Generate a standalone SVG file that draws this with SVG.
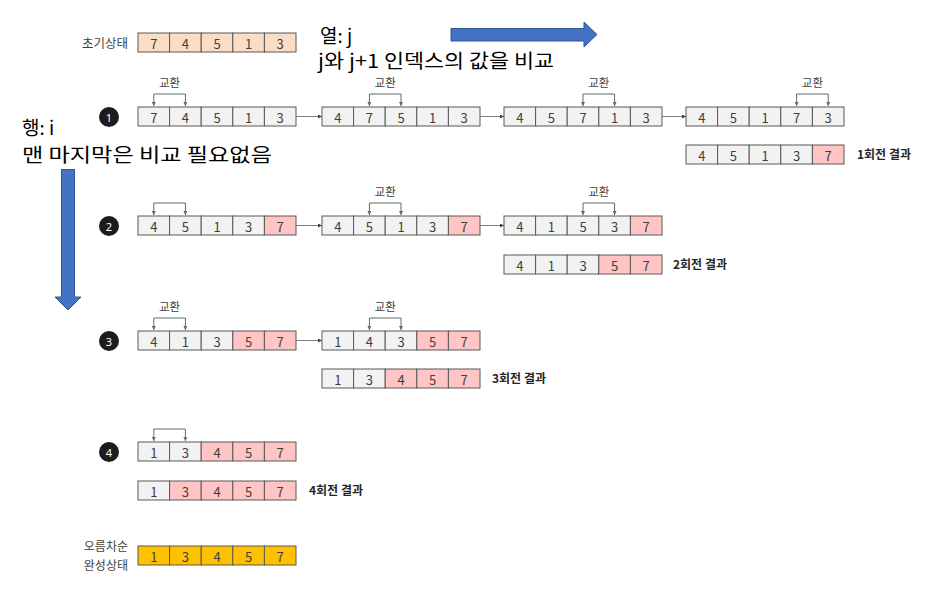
<svg xmlns="http://www.w3.org/2000/svg" width="940" height="613" viewBox="0 0 940 613">
<style>
rect{stroke:#595959;stroke-width:1}
.c{fill:#f2f2f2}.p{fill:#ffc5c5}.o{fill:#fbdcc4}.g{fill:#ffc000}
text{font-family:"Noto Sans CJK KR","Noto Sans",sans-serif}
.n{font-size:13px;fill:#404040;text-anchor:middle;dominant-baseline:central}
.lb{font-size:11.5px;fill:#404040;text-anchor:middle}
.br{fill:none;stroke:#5e6e68;stroke-width:1;marker-start:url(#ah);marker-end:url(#ah)}
.cn{fill:none;stroke:#7f7f7f;stroke-width:1;marker-end:url(#ca)}
.res{font-size:12px;font-weight:bold;fill:#262626}
.big{font-size:19px;fill:#000}
.side{font-size:12.5px;fill:#404040;text-anchor:end}
.side2{font-size:12px;fill:#404040;text-anchor:end}
.cir{fill:#1c1c1c}
.cn2{font-size:11px;fill:#fff;text-anchor:middle;dominant-baseline:central;font-family:"Noto Sans",sans-serif}
.blue{fill:#4472c4;stroke:#2f5597;stroke-width:1}
</style>
<defs>
<marker id="ah" viewBox="0 0 6 6" refX="6" refY="3" markerWidth="4" markerHeight="4" orient="auto-start-reverse" markerUnits="userSpaceOnUse"><path d="M0 0L6 3L0 6z" fill="#5e6e68"/></marker>
<marker id="ca" viewBox="0 0 6 6" refX="6" refY="3" markerWidth="4" markerHeight="4" orient="auto" markerUnits="userSpaceOnUse"><path d="M0 0L6 3L0 6z" fill="#404040"/></marker>
</defs>

<g id="title-col">
<text class="big" x="320" y="43">열: j</text>
<text class="big" x="318" y="68" textLength="236" lengthAdjust="spacingAndGlyphs">j와 j+1 인덱스의 값을 비교</text>
<path class="blue" d="M451 28.5H584V22L597 34.5L584 47V41H451Z"/>
</g>
<g id="title-row">
<text class="big" x="22" y="135">행: i</text>
<text class="big" x="22" y="162" textLength="250" lengthAdjust="spacingAndGlyphs">맨 마지막은 비교 필요없음</text>
<path class="blue" d="M61.5 169.5H74.5V297H81L68 310L55 297H61.5Z"/>
</g>

<g id="init">
<text class="side" x="128" y="48">초기상태</text>
<rect class="o" x="138" y="33" width="31.6" height="19"/><rect class="o" x="169.6" y="33" width="31.6" height="19"/><rect class="o" x="201.2" y="33" width="31.6" height="19"/><rect class="o" x="232.8" y="33" width="31.6" height="19"/><rect class="o" x="264.4" y="33" width="31.6" height="19"/>
<text class="n" x="153.8" y="43">7</text><text class="n" x="185.4" y="43">4</text><text class="n" x="217" y="43">5</text><text class="n" x="248.6" y="43">1</text><text class="n" x="280.2" y="43">3</text>
</g>

<g id="step1"><circle class="cir" cx="109" cy="117" r="10"/><text class="cn2" x="109" y="117">1</text></g>
<g id="step2"><circle class="cir" cx="109" cy="226" r="10"/><text class="cn2" x="109" y="226">2</text></g>
<g id="step3"><circle class="cir" cx="109" cy="341" r="10"/><text class="cn2" x="109" y="341">3</text></g>
<g id="step4"><circle class="cir" cx="109" cy="452" r="10"/><text class="cn2" x="109" y="452">4</text></g>

<g id="r1a">
<rect class="c" x="138" y="107" width="31.6" height="19"/><rect class="c" x="169.6" y="107" width="31.6" height="19"/><rect class="c" x="201.2" y="107" width="31.6" height="19"/><rect class="c" x="232.8" y="107" width="31.6" height="19"/><rect class="c" x="264.4" y="107" width="31.6" height="19"/>
<text class="n" x="153.8" y="117">7</text><text class="n" x="185.4" y="117">4</text><text class="n" x="217" y="117">5</text><text class="n" x="248.6" y="117">1</text><text class="n" x="280.2" y="117">3</text>
<path class="br" d="M153.8 106V94H185.4V106"/><text class="lb" x="169.6" y="87">교환</text>
</g>
<g id="r1b">
<rect class="c" x="322" y="107" width="31.6" height="19"/><rect class="c" x="353.6" y="107" width="31.6" height="19"/><rect class="c" x="385.2" y="107" width="31.6" height="19"/><rect class="c" x="416.8" y="107" width="31.6" height="19"/><rect class="c" x="448.4" y="107" width="31.6" height="19"/>
<text class="n" x="337.8" y="117">4</text><text class="n" x="369.4" y="117">7</text><text class="n" x="401" y="117">5</text><text class="n" x="432.6" y="117">1</text><text class="n" x="464.2" y="117">3</text>
<path class="br" d="M369.4 106V94H401V106"/><text class="lb" x="385.2" y="87">교환</text>
</g>
<g id="r1c">
<rect class="c" x="504" y="107" width="31.6" height="19"/><rect class="c" x="535.6" y="107" width="31.6" height="19"/><rect class="c" x="567.2" y="107" width="31.6" height="19"/><rect class="c" x="598.8" y="107" width="31.6" height="19"/><rect class="c" x="630.4" y="107" width="31.6" height="19"/>
<text class="n" x="519.8" y="117">4</text><text class="n" x="551.4" y="117">5</text><text class="n" x="583" y="117">7</text><text class="n" x="614.6" y="117">1</text><text class="n" x="646.2" y="117">3</text>
<path class="br" d="M583 106V94H614.6V106"/><text class="lb" x="598.8" y="87">교환</text>
</g>
<g id="r1d">
<rect class="c" x="686" y="107" width="31.6" height="19"/><rect class="c" x="717.6" y="107" width="31.6" height="19"/><rect class="c" x="749.2" y="107" width="31.6" height="19"/><rect class="c" x="780.8" y="107" width="31.6" height="19"/><rect class="c" x="812.4" y="107" width="31.6" height="19"/>
<text class="n" x="701.8" y="117">4</text><text class="n" x="733.4" y="117">5</text><text class="n" x="765" y="117">1</text><text class="n" x="796.6" y="117">7</text><text class="n" x="828.2" y="117">3</text>
<path class="br" d="M796.6 106V94H828.2V106"/><text class="lb" x="812.4" y="87">교환</text>
</g>
<g id="res1">
<rect class="c" x="686" y="145" width="31.6" height="19"/><rect class="c" x="717.6" y="145" width="31.6" height="19"/><rect class="c" x="749.2" y="145" width="31.6" height="19"/><rect class="c" x="780.8" y="145" width="31.6" height="19"/><rect class="p" x="812.4" y="145" width="31.6" height="19"/>
<text class="n" x="701.8" y="155">4</text><text class="n" x="733.4" y="155">5</text><text class="n" x="765" y="155">1</text><text class="n" x="796.6" y="155">3</text><text class="n" x="828.2" y="155">7</text>
<text class="res" x="857" y="159">1회전 결과</text>
</g>

<g id="r2a">
<rect class="c" x="138" y="216" width="31.6" height="19"/><rect class="c" x="169.6" y="216" width="31.6" height="19"/><rect class="c" x="201.2" y="216" width="31.6" height="19"/><rect class="c" x="232.8" y="216" width="31.6" height="19"/><rect class="p" x="264.4" y="216" width="31.6" height="19"/>
<text class="n" x="153.8" y="226">4</text><text class="n" x="185.4" y="226">5</text><text class="n" x="217" y="226">1</text><text class="n" x="248.6" y="226">3</text><text class="n" x="280.2" y="226">7</text>
<path class="br" d="M153.8 215V203H185.4V215"/>
</g>
<g id="r2b">
<rect class="c" x="322" y="216" width="31.6" height="19"/><rect class="c" x="353.6" y="216" width="31.6" height="19"/><rect class="c" x="385.2" y="216" width="31.6" height="19"/><rect class="c" x="416.8" y="216" width="31.6" height="19"/><rect class="p" x="448.4" y="216" width="31.6" height="19"/>
<text class="n" x="337.8" y="226">4</text><text class="n" x="369.4" y="226">5</text><text class="n" x="401" y="226">1</text><text class="n" x="432.6" y="226">3</text><text class="n" x="464.2" y="226">7</text>
<path class="br" d="M369.4 215V203H401V215"/><text class="lb" x="385.2" y="196">교환</text>
</g>
<g id="r2c">
<rect class="c" x="504" y="216" width="31.6" height="19"/><rect class="c" x="535.6" y="216" width="31.6" height="19"/><rect class="c" x="567.2" y="216" width="31.6" height="19"/><rect class="c" x="598.8" y="216" width="31.6" height="19"/><rect class="p" x="630.4" y="216" width="31.6" height="19"/>
<text class="n" x="519.8" y="226">4</text><text class="n" x="551.4" y="226">1</text><text class="n" x="583" y="226">5</text><text class="n" x="614.6" y="226">3</text><text class="n" x="646.2" y="226">7</text>
<path class="br" d="M583 215V203H614.6V215"/><text class="lb" x="598.8" y="196">교환</text>
</g>
<g id="res2">
<rect class="c" x="504" y="255" width="31.6" height="19"/><rect class="c" x="535.6" y="255" width="31.6" height="19"/><rect class="c" x="567.2" y="255" width="31.6" height="19"/><rect class="p" x="598.8" y="255" width="31.6" height="19"/><rect class="p" x="630.4" y="255" width="31.6" height="19"/>
<text class="n" x="519.8" y="265">4</text><text class="n" x="551.4" y="265">1</text><text class="n" x="583" y="265">3</text><text class="n" x="614.6" y="265">5</text><text class="n" x="646.2" y="265">7</text>
<text class="res" x="673" y="269">2회전 결과</text>
</g>

<g id="r3a">
<rect class="c" x="138" y="331" width="31.6" height="19"/><rect class="c" x="169.6" y="331" width="31.6" height="19"/><rect class="c" x="201.2" y="331" width="31.6" height="19"/><rect class="p" x="232.8" y="331" width="31.6" height="19"/><rect class="p" x="264.4" y="331" width="31.6" height="19"/>
<text class="n" x="153.8" y="341">4</text><text class="n" x="185.4" y="341">1</text><text class="n" x="217" y="341">3</text><text class="n" x="248.6" y="341">5</text><text class="n" x="280.2" y="341">7</text>
<path class="br" d="M153.8 330V318H185.4V330"/><text class="lb" x="169.6" y="311">교환</text>
</g>
<g id="r3b">
<rect class="c" x="322" y="331" width="31.6" height="19"/><rect class="c" x="353.6" y="331" width="31.6" height="19"/><rect class="c" x="385.2" y="331" width="31.6" height="19"/><rect class="p" x="416.8" y="331" width="31.6" height="19"/><rect class="p" x="448.4" y="331" width="31.6" height="19"/>
<text class="n" x="337.8" y="341">1</text><text class="n" x="369.4" y="341">4</text><text class="n" x="401" y="341">3</text><text class="n" x="432.6" y="341">5</text><text class="n" x="464.2" y="341">7</text>
<path class="br" d="M369.4 330V318H401V330"/><text class="lb" x="385.2" y="311">교환</text>
</g>
<g id="res3">
<rect class="c" x="322" y="369" width="31.6" height="19"/><rect class="c" x="353.6" y="369" width="31.6" height="19"/><rect class="p" x="385.2" y="369" width="31.6" height="19"/><rect class="p" x="416.8" y="369" width="31.6" height="19"/><rect class="p" x="448.4" y="369" width="31.6" height="19"/>
<text class="n" x="337.8" y="379">1</text><text class="n" x="369.4" y="379">3</text><text class="n" x="401" y="379">4</text><text class="n" x="432.6" y="379">5</text><text class="n" x="464.2" y="379">7</text>
<text class="res" x="492" y="383">3회전 결과</text>
</g>

<g id="r4a">
<rect class="c" x="138" y="442" width="31.6" height="19"/><rect class="c" x="169.6" y="442" width="31.6" height="19"/><rect class="p" x="201.2" y="442" width="31.6" height="19"/><rect class="p" x="232.8" y="442" width="31.6" height="19"/><rect class="p" x="264.4" y="442" width="31.6" height="19"/>
<text class="n" x="153.8" y="452">1</text><text class="n" x="185.4" y="452">3</text><text class="n" x="217" y="452">4</text><text class="n" x="248.6" y="452">5</text><text class="n" x="280.2" y="452">7</text>
<path class="br" d="M153.8 441V429H185.4V441"/>
</g>
<g id="res4">
<rect class="c" x="138" y="481" width="31.6" height="19"/><rect class="p" x="169.6" y="481" width="31.6" height="19"/><rect class="p" x="201.2" y="481" width="31.6" height="19"/><rect class="p" x="232.8" y="481" width="31.6" height="19"/><rect class="p" x="264.4" y="481" width="31.6" height="19"/>
<text class="n" x="153.8" y="491">1</text><text class="n" x="185.4" y="491">3</text><text class="n" x="217" y="491">4</text><text class="n" x="248.6" y="491">5</text><text class="n" x="280.2" y="491">7</text>
<text class="res" x="309" y="495">4회전 결과</text>
</g>

<g id="final">
<text class="side2" x="128" y="551">오름차순</text>
<text class="side2" x="128" y="569.5">완성상태</text>
<rect class="g" x="138" y="546" width="31.6" height="19"/><rect class="g" x="169.6" y="546" width="31.6" height="19"/><rect class="g" x="201.2" y="546" width="31.6" height="19"/><rect class="g" x="232.8" y="546" width="31.6" height="19"/><rect class="g" x="264.4" y="546" width="31.6" height="19"/>
<text class="n" x="153.8" y="556">1</text><text class="n" x="185.4" y="556">3</text><text class="n" x="217" y="556">4</text><text class="n" x="248.6" y="556">5</text><text class="n" x="280.2" y="556">7</text>
</g>

<g id="connectors">
<path class="cn" d="M296 116.5H322"/>
<path class="cn" d="M480 116.5H504"/>
<path class="cn" d="M662 116.5H686"/>
<path class="cn" d="M296 225.5H322"/>
<path class="cn" d="M480 225.5H504"/>
<path class="cn" d="M296 340.5H322"/>
</g>
</svg>
